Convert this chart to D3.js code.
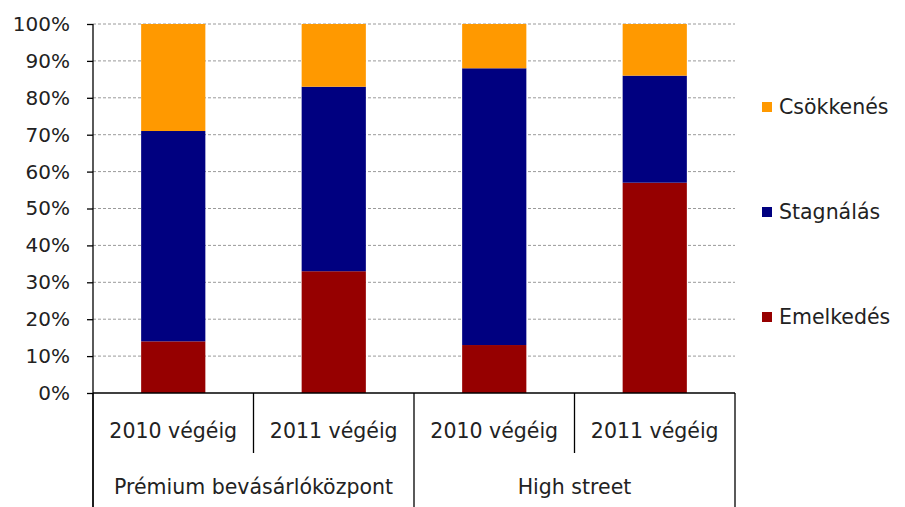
<!DOCTYPE html>
<html>
<head>
<meta charset="utf-8">
<script src="https://cdn.jsdelivr.net/npm/d3@7"></script>
<style>
html,body{margin:0;padding:0;background:#fff;}
svg{display:block;}
text{font-family:"DejaVu Sans",sans-serif;fill:#222;}
</style>
</head>
<body>
<svg id="chart" width="905" height="507"></svg>
<script>
// Data
const categories = ["2010 végéig", "2011 végéig", "2010 végéig ", "2011 végéig "];
const categoryLabels = ["2010 végéig", "2011 végéig", "2010 végéig", "2011 végéig"];
const groups = ["Prémium bevásárlóközpont", "High street"];
const groupSpans = [2, 2];
const seriesNames = ["Emelkedés", "Stagnálás", "Csökkenés"];
const emelkedes = [0.14, 0.33, 0.13, 0.57];
const stagnalas = [0.57, 0.50, 0.75, 0.29];
const csokkenes = [0.29, 0.17, 0.12, 0.14];
const yTicks = [0, 0.1, 0.2, 0.3, 0.4, 0.5, 0.6, 0.7, 0.8, 0.9, 1.0];
const colors = ["#960000", "#000080", "#FF9900"];

const svg = d3.select("#chart");
const mLeft = 93, mRight = 735, mTop = 24, mBottom = 393;

const x = d3.scaleBand().domain(categories).range([mLeft, mRight])
  .paddingInner(0.6).paddingOuter(0.3);
const y = d3.scaleLinear().domain([0, 1]).range([mBottom, mTop]);

// gridlines
svg.append("g").selectAll("line").data(yTicks.filter(d => d > 0)).join("line")
  .attr("x1", mLeft).attr("x2", mRight)
  .attr("y1", d => y(d)).attr("y2", d => y(d))
  .attr("stroke", "#9a9a9a").attr("stroke-width", 1)
  .attr("stroke-dasharray", "3,2");

// stacked bars
const rows = categories.map((c, i) => ({cat: c, "Emelkedés": emelkedes[i], "Stagnálás": stagnalas[i], "Csökkenés": csokkenes[i]}));
const stack = d3.stack().keys(seriesNames)(rows);
svg.append("g").selectAll("g").data(stack).join("g")
  .attr("fill", (d, i) => colors[i])
  .selectAll("rect").data(d => d).join("rect")
  .attr("x", d => x(d.data.cat))
  .attr("width", x.bandwidth())
  .attr("y", d => y(d[1]))
  .attr("height", d => y(d[0]) - y(d[1]));

// y axis
const yAxis = d3.axisLeft(y).tickValues(yTicks).tickFormat(d3.format(".0%")).tickSize(6).tickPadding(17);
const ya = svg.append("g").attr("transform", `translate(${mLeft},0)`).call(yAxis);
ya.select(".domain").remove();
ya.selectAll(".tick line").attr("stroke", "#000").attr("stroke-width", 1.3);
ya.selectAll(".tick text").attr("font-size", 20).attr("fill", "#333")
  .style("font-family", "'DejaVu Sans', sans-serif");

// axis lines
svg.append("line").attr("x1", mLeft).attr("x2", mLeft).attr("y1", mTop).attr("y2", 507)
  .attr("stroke", "#000").attr("stroke-width", 1.3);
svg.append("line").attr("x1", mLeft).attr("x2", mRight).attr("y1", mBottom).attr("y2", mBottom)
  .attr("stroke", "#000").attr("stroke-width", 1.3);

// category separators
const step = x.step();
const boundaries = categories.map(c => x(c) - step * 0.3).concat([mRight]);
const groupEdges = [0];
groupSpans.reduce((acc, s) => { acc += s; groupEdges.push(acc); return acc; }, 0);
boundaries.forEach((bx, i) => {
  const isGroupEdge = groupEdges.includes(i);
  svg.append("line").attr("x1", bx).attr("x2", bx)
    .attr("y1", mBottom).attr("y2", isGroupEdge ? 507 : 453)
    .attr("stroke", "#000").attr("stroke-width", 1.3);
});

// category labels
svg.append("g").selectAll("text").data(categories).join("text")
  .attr("x", d => x(d) + x.bandwidth() / 2)
  .attr("y", 431)
  .attr("text-anchor", "middle").attr("dominant-baseline", "central")
  .attr("font-size", 20.5)
  .text((d, i) => categoryLabels[i]);

// group labels
groups.forEach((g, i) => {
  const x0 = boundaries[groupEdges[i]], x1 = boundaries[groupEdges[i + 1]];
  svg.append("text").attr("x", (x0 + x1) / 2).attr("y", 487)
    .attr("text-anchor", "middle").attr("dominant-baseline", "central")
    .attr("font-size", 20.5).text(g);
});

// legend
const legendOrder = [2, 1, 0];
const legendY = [107, 212, 317];
legendOrder.forEach((si, k) => {
  svg.append("rect").attr("x", 762).attr("y", legendY[k] - 5).attr("width", 10).attr("height", 10)
    .attr("fill", colors[si]);
  svg.append("text").attr("x", 779).attr("y", legendY[k])
    .attr("dominant-baseline", "central").attr("font-size", 20.5)
    .text(seriesNames[si]);
});
</script>
</body>
</html>
